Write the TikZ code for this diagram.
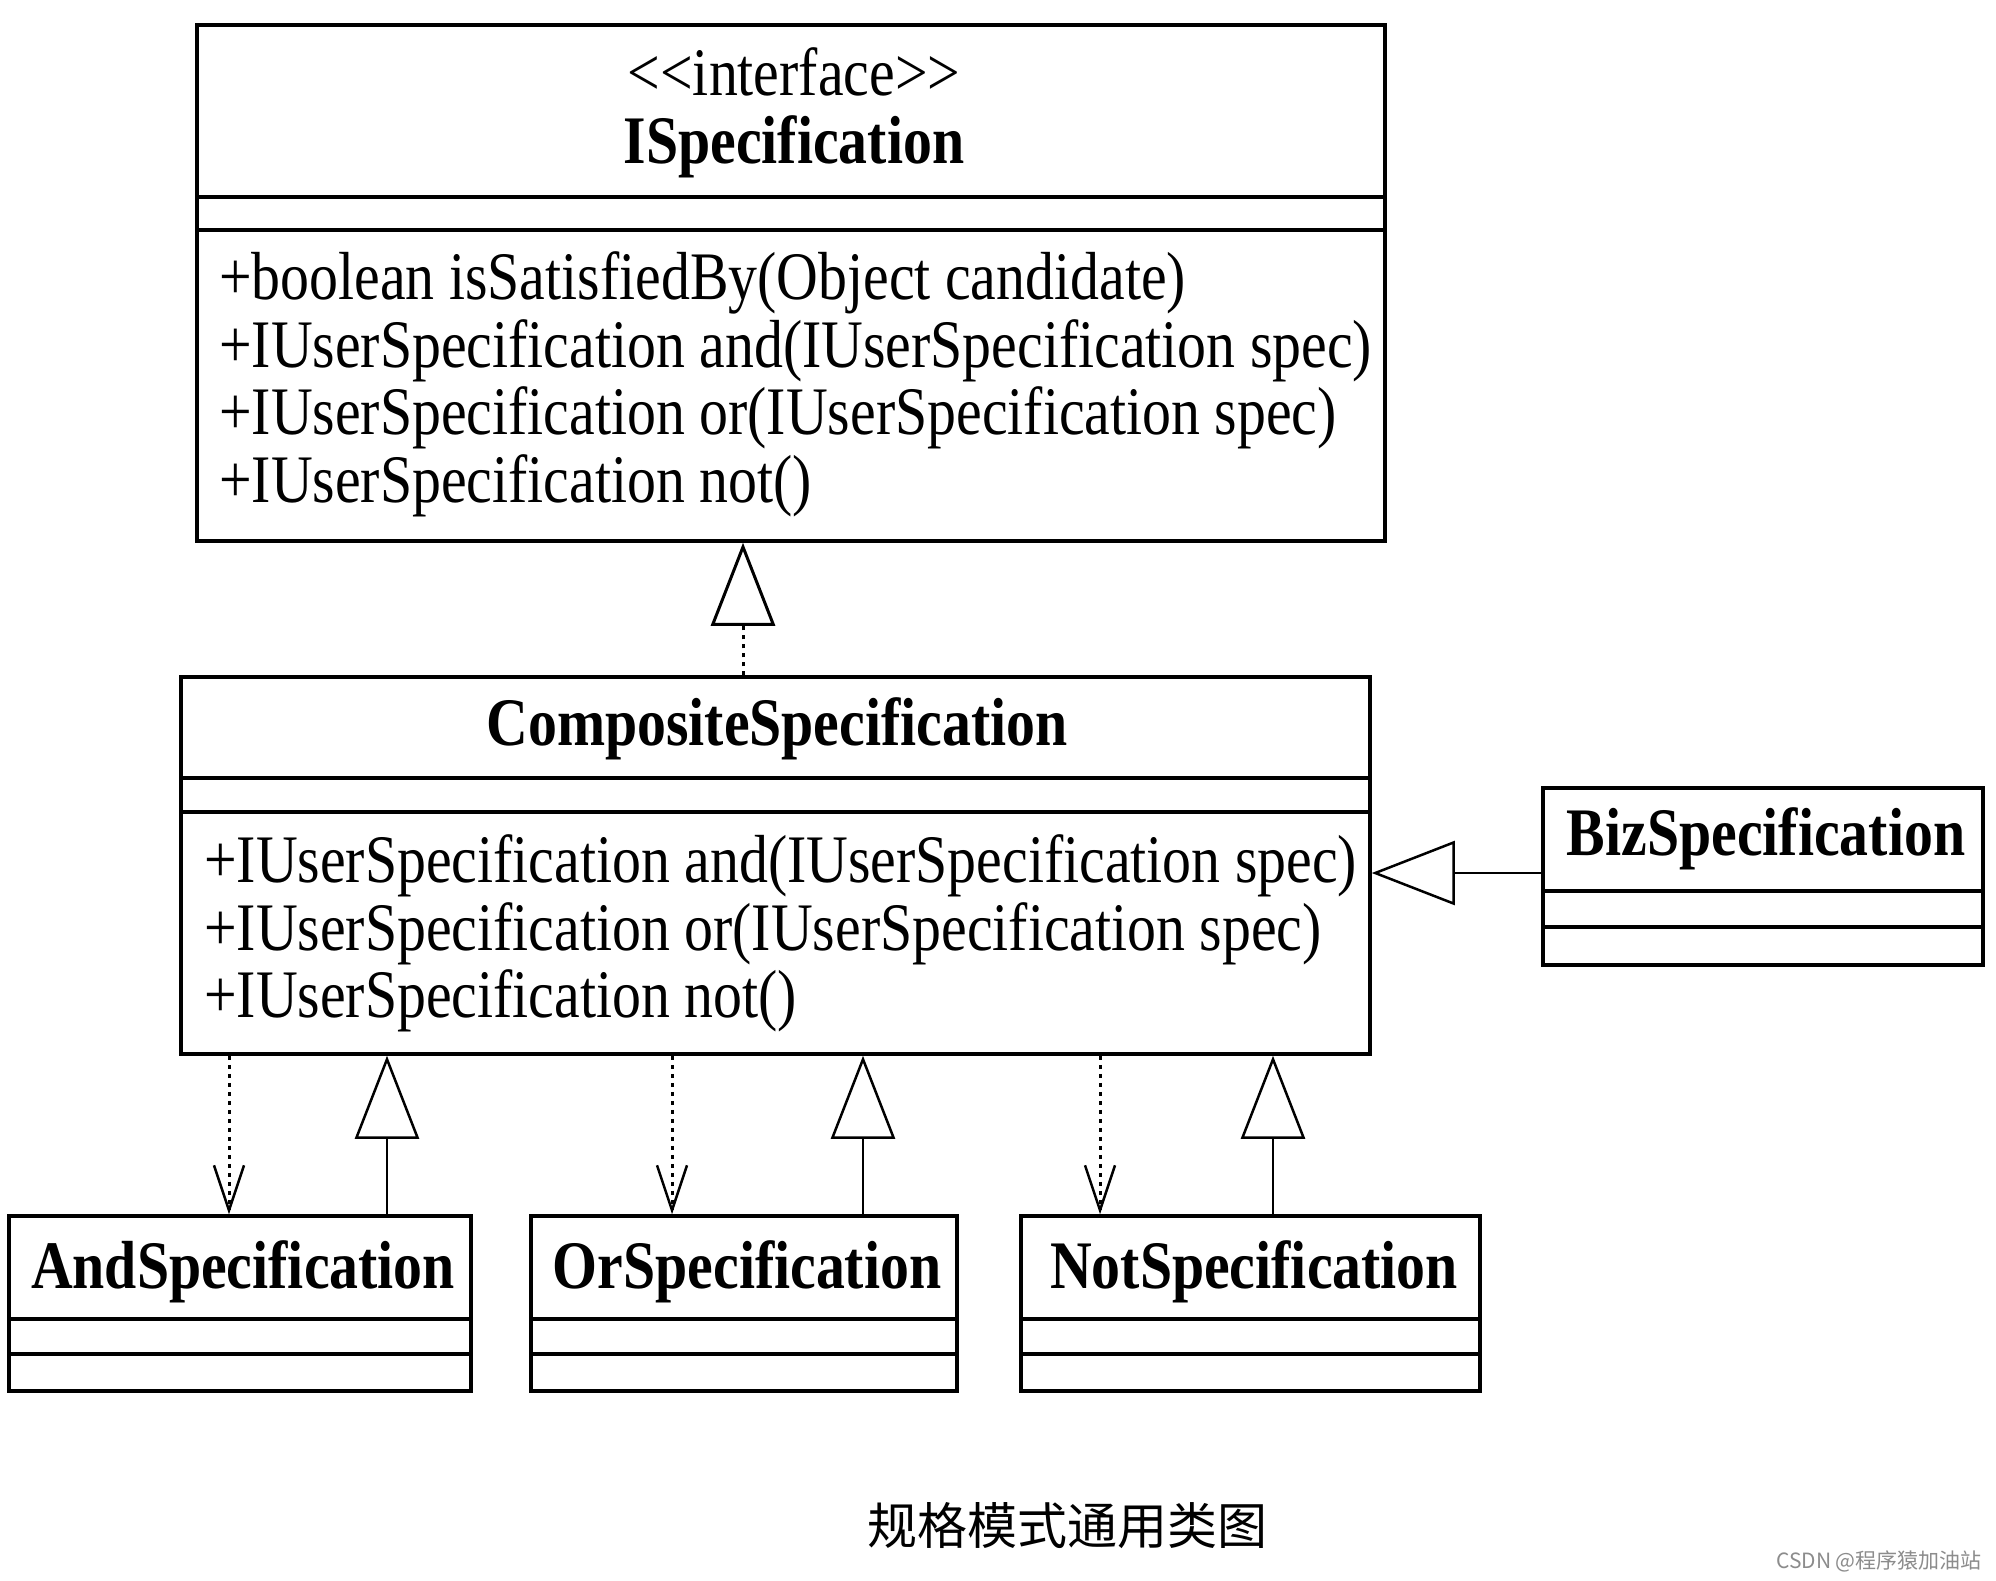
\documentclass[tikz,border=0pt]{standalone}
\usepackage{fontspec}
\setmainfont{Liberation Serif}[FakeStretch=0.85]
\newfontfamily\cjk{Noto Sans CJK SC}
\usepackage{tikz}
\usetikzlibrary{arrows.meta}
\usetikzlibrary{calc}

\begin{document}
\begin{tikzpicture}[x=1pt, y=-1pt,
    classbox/.style={draw, line width=3.5pt, inner sep=0pt, fill=white},
    boxline/.style={line width=3.5pt},
    member/.style={anchor=base west, inner sep=0pt},
    title/.style={anchor=base, inner sep=0pt, font=\bfseries},
    generalize/.style={line width=2.5pt, -{Triangle[open, length=83pt, width=64pt]}},
    realize/.style={generalize, line width=3pt, dash pattern=on 4pt off 5pt},
    depend/.style={line width=3pt, dash pattern=on 4pt off 5pt, -{Straight Barb[length=45pt, width=30pt, line width=2.5pt]}}]
                \fill [white] (0,0) rectangle (1996,1580);%
                \useasboundingbox (0,0) rectangle (1996,1580);%
                {\fontsize{68}{68}\selectfont

                % Drawing class ISpecification
                \node [classbox, minimum width=1188pt, minimum height=516pt] (ispec) at (791,283) {};%
                \draw [boxline] (ispec.west |- 0,197) -- (ispec.east |- 0,197);%
                \draw [boxline] (ispec.west |- 0,230) -- (ispec.east |- 0,230);%
                \node [anchor=base, inner sep=0pt] (ispecStereo) at (794,95) {\textless\kern0pt\textless\kern0pt interface\textgreater\kern0pt\textgreater};%
                \node [title] (ispecName) at (794,163) {ISpecification};%
                \node [member] (ispecOpA) at (219,299) {+boolean isSatisfiedBy(Object candidate)};%
                \node [member] (ispecOpB) at (219,367) {+IUserSpecification and(IUserSpecification spec)};%
                \node [member] (ispecOpC) at (219,434) {+IUserSpecification or(IUserSpecification spec)};%
                \node [member] (ispecOpD) at (219,502) {+IUserSpecification not()};%

                % Drawing class CompositeSpecification
                \node [classbox, minimum width=1189pt, minimum height=377pt] (comp) at (775.5,865.5) {};%
                \draw [boxline] (comp.west |- 0,778) -- (comp.east |- 0,778);%
                \draw [boxline] (comp.west |- 0,812) -- (comp.east |- 0,812);%
                \node [title] (compName) at (777,745) {CompositeSpecification};%
                \node [member] (compOpA) at (204,882) {+IUserSpecification and(IUserSpecification spec)};%
                \node [member] (compOpB) at (204,950) {+IUserSpecification or(IUserSpecification spec)};%
                \node [member] (compOpC) at (204,1017) {+IUserSpecification not()};%

                % Drawing class BizSpecification
                \node [classbox, minimum width=440pt, minimum height=177pt] (biz) at (1763,876.5) {};%
                \draw [boxline] (biz.west |- 0,891) -- (biz.east |- 0,891);%
                \draw [boxline] (biz.west |- 0,927) -- (biz.east |- 0,927);%
                \node [title] (bizName) at (1766,855) {BizSpecification};%

                % Drawing class AndSpecification
                \node [classbox, minimum width=462pt, minimum height=175pt] (andSpec) at (240,1303.5) {};%
                \draw [boxline] (andSpec.west |- 0,1319) -- (andSpec.east |- 0,1319);%
                \draw [boxline] (andSpec.west |- 0,1354) -- (andSpec.east |- 0,1354);%
                \node [title] (andName) at (243,1288) {AndSpecification};%

                % Drawing class OrSpecification
                \node [classbox, minimum width=426pt, minimum height=175pt] (orSpec) at (744,1303.5) {};%
                \draw [boxline] (orSpec.west |- 0,1319) -- (orSpec.east |- 0,1319);%
                \draw [boxline] (orSpec.west |- 0,1354) -- (orSpec.east |- 0,1354);%
                \node [title] (orName) at (747,1288) {OrSpecification};%

                % Drawing class NotSpecification
                \node [classbox, minimum width=459pt, minimum height=175pt] (notSpec) at (1250.5,1303.5) {};%
                \draw [boxline] (notSpec.west |- 0,1319) -- (notSpec.east |- 0,1319);%
                \draw [boxline] (notSpec.west |- 0,1354) -- (notSpec.east |- 0,1354);%
                \node [title] (notName) at (1254,1288) {NotSpecification};%

                % Drawing realization comp ispec
                \draw [realize] (comp.north -| 743,0) -- (ispec.south -| 743,0);%

                % Drawing generalization biz comp
                \draw [generalize] (biz.west |- 0,873) -- (comp.east |- 0,873);%

                % Drawing dependencies comp and, or, not
                \draw [depend] (comp.south -| 229,0) -- (andSpec.north -| 229,0);%
                \draw [depend] (comp.south -| 672,0) -- (orSpec.north -| 672,0);%
                \draw [depend] (comp.south -| 1100,0) -- (notSpec.north -| 1100,0);%

                % Drawing generalizations and, or, not comp
                \draw [generalize] (andSpec.north -| 387,0) -- (comp.south -| 387,0);%
                \draw [generalize] (orSpec.north -| 863,0) -- (comp.south -| 863,0);%
                \draw [generalize] (notSpec.north -| 1273,0) -- (comp.south -| 1273,0);%

                % Marking caption
                \node [font=\cjk\fontsize{50}{50}\selectfont, inner sep=0pt] (caption) at (1067,1526) {规格模式通用类图};%
                \node [font=\cjk\fontsize{21}{21}\selectfont, text=black!45, anchor=east, inner sep=0pt] (mark) at (1982,1561) {CSDN @程序猿加油站};%
                }
\end{tikzpicture}
\end{document}
